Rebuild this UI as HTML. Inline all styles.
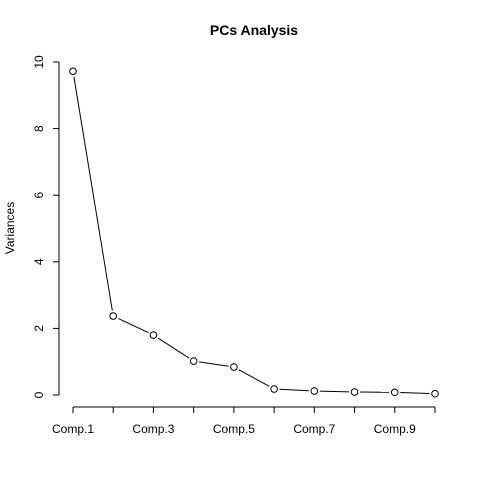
<!DOCTYPE html>
<html><head><meta charset="utf-8"><style>
html,body{margin:0;padding:0;background:#fff;}
svg{display:block;font-family:"Liberation Sans",Arial,sans-serif;}
</style></head><body>
<svg id="chart" width="480" height="480">
<text x="254" y="35" text-anchor="middle" font-size="14" font-weight="bold">PCs Analysis</text>
<text transform="translate(14,228) rotate(-90)" text-anchor="middle" font-size="12">Variances</text>
<g id="axes"></g>
<g id="marks"></g>
</svg>
<script>
const categories = ["Comp.1","Comp.2","Comp.3","Comp.4","Comp.5","Comp.6","Comp.7","Comp.8","Comp.9","Comp.10"];
const variances = [9.72, 2.37, 1.80, 1.02, 0.84, 0.18, 0.12, 0.09, 0.08, 0.04];
const yTicks = [0, 2, 4, 6, 8, 10];
const xLabelIdx = [0, 2, 4, 6, 8];
const NS = "http://www.w3.org/2000/svg";
function x(i){ return 73 + i * (435 - 73) / (categories.length - 1); }
function y(v){ return 395 - v * 33.3; }
function mk(tag, attrs, parent){ const e = document.createElementNS(NS, tag); for (const k in attrs) e.setAttribute(k, attrs[k]); parent.appendChild(e); return e; }
const axes = document.getElementById('axes'), marks = document.getElementById('marks');
// y axis
let ya = mk('line', {x1:59, x2:59, y1:y(0), y2:y(10), stroke:'#000'}, axes);


yTicks.forEach(t => {
  const l = mk('line', {x1:53, x2:59, y1:y(t), y2:y(t), stroke:'#000'}, axes);
  
  
  const tx = mk('text', {transform:`translate(43,${y(t)}) rotate(-90)`, 'text-anchor':'middle', 'font-size':12}, axes);
  tx.textContent = t;
  
  
});
// x axis
let xa = mk('line', {x1:x(0), x2:x(categories.length-1), y1:407, y2:407, stroke:'#000'}, axes);


categories.forEach((c, i) => {
  const l = mk('line', {x1:x(i), x2:x(i), y1:407, y2:413, stroke:'#000'}, axes);
  
  
});
xLabelIdx.forEach(i => {
  const tx = mk('text', {x:x(i), y:433, 'text-anchor':'middle', 'font-size':12}, axes);
  tx.textContent = categories[i];
  
  
});
// line segments (R type="b" leaves gaps around points)
for (let i = 0; i < variances.length - 1; i++) {
  const x1 = x(i), y1 = y(variances[i]), x2 = x(i+1), y2 = y(variances[i+1]);
  const dx = x2 - x1, dy = y2 - y1, d = Math.hypot(dx, dy), g = 5.5;
  if (d <= 2*g) continue;
  const s = mk('line', {x1:x1+dx*g/d, y1:y1+dy*g/d, x2:x2-dx*g/d, y2:y2-dy*g/d, stroke:'#000', 'stroke-width':1}, marks);
  
  
}
variances.forEach((v, i) => {
  const c = mk('circle', {cx:x(i), cy:y(v), r:3.3, fill:'none', stroke:'#000', 'stroke-width':1}, marks);
  
  
});
</script>
</body></html>
